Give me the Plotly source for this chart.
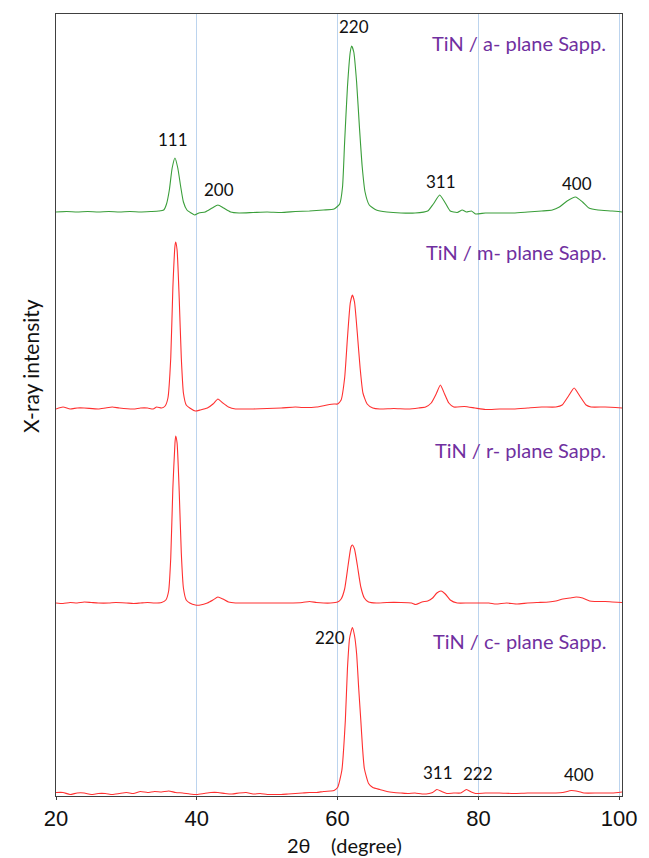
import plotly.graph_objects as go

# ---------------- data (2θ in degrees, intensity in arbitrary units) ----------------
A_PLANE = [(20, 0), (21.5, 0.5), (23, 0), (24.5, 0.5), (26, 0), (27.5, 0.5), (29, 0), (30.5, 0.5),
           (32, 0), (33.5, 0.5), (34.6, 1), (35.3, 2), (35.7, 8), (36.1, 22), (36.5, 44), (36.9, 54),
           (37.3, 44), (37.7, 26), (38.1, 10), (38.6, 2), (39.2, -1), (39.7, -3), (40.3, -1), (41.2, 0),
           (42.2, 4), (43.0, 7), (43.8, 4), (44.8, 0), (46, -1), (48, -0.5), (50, 0), (52, -0.5),
           (54, 0.5), (56, 1), (58, 2), (59.5, 3), (60.3, 8), (60.7, 25), (61.0, 70), (61.4, 125),
           (61.8, 160), (62.0, 166), (62.3, 160), (62.7, 130), (63.1, 85), (63.5, 45), (63.9, 20),
           (64.5, 7), (65.5, 2), (67, 0), (69, -1), (71, -1), (72.8, 1), (73.6, 8), (74.5, 17),
           (75.3, 9), (76.0, 1), (77, -0.5), (77.7, 2), (78.3, 0), (79, 1), (79.6, -2), (81, -1),
           (83, -1), (85, -1), (87, 0), (89, 1), (90.5, 2), (91.5, 5), (92.6, 11), (93.8, 15),
           (94.8, 10), (95.7, 4), (97, 2), (99, 1), (100.4, 0)]

M_PLANE = [(20, -1), (21, 1), (22, -1), (23, 0), (24, 0), (26, -1), (27, 0), (28, 1), (29, 0),
           (31, -1), (32, 0), (33, 0), (33.8, -1), (34.3, 1), (35, 0), (35.5, 2), (35.9, 10),
           (36.3, 50), (36.6, 120), (36.9, 162), (37.0, 166), (37.2, 158), (37.5, 110), (37.8, 50),
           (38.1, 15), (38.5, 3), (39, 0), (39.8, -3), (40.5, -2), (41.5, 0), (42.3, 4), (43, 9),
           (43.7, 5), (44.5, 1), (45.5, -1), (46, -1), (48, -1), (50, -0.5), (52, 0), (54, 1),
           (55, 0.5), (57, 1), (58.5, 3), (59.5, 4), (60, 4), (60.5, 8), (61, 30), (61.4, 70),
           (61.8, 105), (62.1, 113), (62.4, 106), (62.8, 75), (63.2, 40), (63.6, 15), (64.2, 4),
           (65, 0), (66, -1), (68, -0.5), (70, -1), (71.5, 0), (72.5, 1), (73.3, 5), (74, 14),
           (74.6, 23), (75.2, 14), (75.8, 5), (76.5, 1), (78, 1.5), (79.5, 0), (81, -1.5), (83, -1),
           (85, -1), (87, 0), (89, 1), (91, 1), (91.9, 3), (92.8, 12), (93.6, 20), (94.4, 12),
           (95.3, 3), (96, 1), (98, 1), (100.4, 0)]

R_PLANE = [(20, 0), (21, -0.5), (22, 0.5), (23, 0), (24, 1), (25, 0.5), (26, 0), (27.5, 0),
           (28.5, 0.5), (30, 0), (31, -0.5), (32, 0), (33, 0.5), (34, 0), (35, 0.5), (35.6, 3),
           (36, 12), (36.3, 45), (36.6, 115), (36.9, 160), (37.0, 167), (37.2, 160), (37.5, 112),
           (37.8, 50), (38.1, 15), (38.5, 3), (39, 0), (39.8, -2), (40.5, -2), (41.5, 0), (42.3, 3),
           (43, 6), (43.7, 4), (44.5, 1), (45.5, 0), (47, 0), (49, 0), (51, 0), (53, 0), (55, 0.5),
           (56, 1.5), (57, 0.5), (58, 0), (59, 0), (60, 1), (60.5, 4), (61.0, 14), (61.5, 38),
           (61.9, 56), (62.1, 58), (62.4, 54), (62.8, 38), (63.3, 16), (63.8, 5), (64.4, 1),
           (65.5, 0), (67, 0.5), (69, 0.5), (70.5, 0), (71.1, -1.5), (72, 1), (72.8, 2), (73.5, 5),
           (74.1, 10), (74.7, 12), (75.3, 9), (76, 3), (77, 0), (78.5, 0), (80, 0), (81.5, 0),
           (82.5, -1), (84, 0), (85.5, -1), (87, 0), (88.5, 0.5), (90, 1), (91, 2), (92, 4), (93, 5),
           (93.9, 6), (94.8, 5), (95.8, 2), (96.5, 1.5), (98, 1.5), (99, 1), (100.4, 0.5)]

C_PLANE = [(20, 1), (21, 1), (22, -1), (23, 0.5), (24, 0.5), (25, -1), (26, 0), (27, 0), (28, -1),
           (29, 0), (30, 1), (31, 0), (32, 2), (33, 1), (34, 2), (35, 1.5), (36, 2.5), (37, 1),
           (38, 0.5), (39, -0.5), (40, -1), (41, 0), (42, 1), (43, 1), (44, 0), (45, -0.5), (46, 0.5),
           (47, 1), (48, -0.5), (49, 0), (50, -1), (51, -1), (52, -1), (53, -0.5), (54, 0), (55, 0.5),
           (56, 1), (57, 1), (58, 2), (59, 2.5), (59.5, 3), (60.0, 6), (60.6, 23), (61.1, 73),
           (61.4, 125), (61.7, 155), (62.1, 166), (62.4, 158), (62.7, 140), (63.0, 105), (63.3, 73),
           (63.55, 45), (63.8, 25), (64.4, 10), (65, 6), (66, 4), (67, 2), (68, 1), (69, 0.5),
           (70, 0), (71, 0.5), (72, -0.5), (73, 0), (73.5, 1), (74.1, 4), (74.8, 2), (75.5, 0),
           (76.5, 0.5), (77.5, 0.5), (78.3, 4), (79, 1.5), (79.6, 0), (81, 0.5), (83, 0.5), (85, 0),
           (87, 0.5), (89, 0.5), (91, 0.5), (92, 1), (93.2, 3), (94.2, 2), (95, 0.5), (97, 0.5),
           (99, 0.5), (100.4, 1.5)]

SAMPLE_NAMES = ["TiN / a- plane Sapp.", "TiN / m- plane Sapp.",
                "TiN / r- plane Sapp.", "TiN / c- plane Sapp."]
SAMPLE_DATA = [A_PLANE, M_PLANE, R_PLANE, C_PLANE]

# peak labels: (text, 2θ, label height)
A_PEAK_LABELS = [("111", 36.6, 657), ("200", 43.2, 607), ("220", 62.3, 770),
                 ("311", 74.7, 615), ("400", 94.0, 613)]
C_PEAK_LABELS = [("220", 58.9, 159), ("311", 74.3, 24), ("222", 79.9, 23), ("400", 94.3, 22)]

X_TICKS = [20, 40, 60, 80, 100]

# ---------------- layout / style ----------------
OFFSETS = [584, 388, 193, 2.5]
COLORS = ["#3a9e3a", "#ff3030", "#ff3030", "#ff3030"]
NAME_Y = [753, 544, 346, 155]
PURPLE = "#7030a0"
LABEL_FONT = "Lato, 'Open Sans', sans-serif"

fig = go.Figure()
for pts, off, col, nm in zip(SAMPLE_DATA, OFFSETS, COLORS, SAMPLE_NAMES):
    xs = [p[0] for p in pts]
    ys = [p[1] + off for p in pts]
    fig.add_trace(go.Scatter(x=xs, y=ys, mode="lines", name=nm,
                             line=dict(color=col, width=1.1, shape="spline", smoothing=0.5),
                             showlegend=False, hoverinfo="skip"))

ann = []
for nm, yy in zip(SAMPLE_NAMES, NAME_Y):
    ann.append(dict(x=98.4, y=yy, xref="x", yref="y", text=nm, showarrow=False,
                    xanchor="right", yanchor="middle",
                    font=dict(family=LABEL_FONT, size=20, color=PURPLE)))
for t, x, y in A_PEAK_LABELS + C_PEAK_LABELS:
    ann.append(dict(x=x, y=y, xref="x", yref="y", text=t, showarrow=False,
                    xanchor="center", yanchor="middle",
                    font=dict(family=LABEL_FONT, size=17, color="#111111")))
ann.append(dict(x=61.0, y=0, xref="x", yref="paper", yshift=-49, text="2θ\u00a0\u00a0\u00a0\u00a0(degree)",
                showarrow=False, xanchor="center", yanchor="middle",
                font=dict(family=LABEL_FONT, size=20, color="#111111")))
ann.append(dict(x=0, y=430, xref="paper", yref="y", xshift=-26, text="X-ray intensity",
                showarrow=False, textangle=-90, xanchor="center", yanchor="middle",
                font=dict(family=LABEL_FONT, size=21, color="#111111")))

fig.update_layout(
    width=649, height=858,
    margin=dict(l=56, r=27, t=14, b=62),
    paper_bgcolor="white", plot_bgcolor="white",
    annotations=ann,
    xaxis=dict(range=[20, 100.4], tickvals=X_TICKS, ticktext=[str(v) for v in X_TICKS],
               showgrid=True, gridcolor="#bcd4ee", gridwidth=1,
               showline=True, linecolor="#404040", linewidth=1, mirror=True,
               ticks="outside", ticklen=3, tickcolor="#404040",
               tickfont=dict(family="Liberation Sans, Arial, sans-serif", size=22, color="#111111"),
               zeroline=False),
    yaxis=dict(range=[0, 782], showticklabels=False, showgrid=False, zeroline=False,
               showline=True, linecolor="#404040", linewidth=1, mirror=True, ticks=""),
)

fig.write_html("out.html", config={"displayModeBar": False},
               post_script="document.body.style.margin='0';document.body.style.overflow='hidden';")
